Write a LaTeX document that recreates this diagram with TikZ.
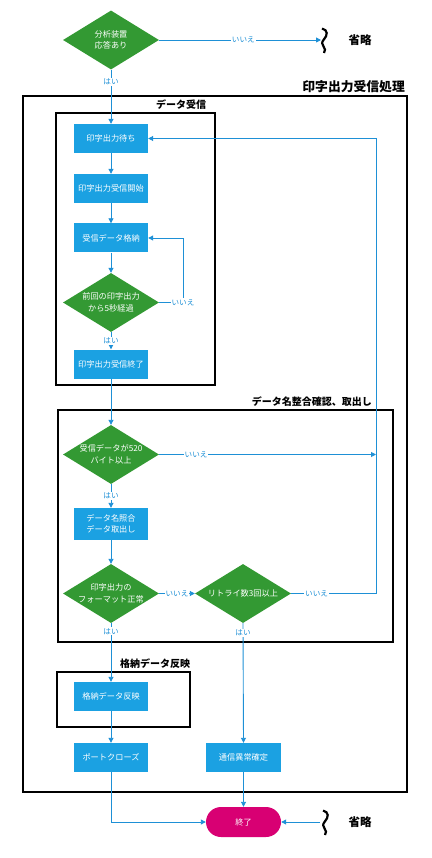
\documentclass[tikz,border=0pt]{standalone}
\usepackage{fontspec}
\setmainfont{Noto Sans CJK JP}
\usetikzlibrary{shapes.geometric,shapes.misc,arrows.meta}
\definecolor{grn}{RGB}{51,153,51}
\definecolor{bx}{RGB}{27,161,226}
\definecolor{ln}{RGB}{30,144,214}
\definecolor{mag}{RGB}{216,0,115}
\tikzset{
  dia/.style={diamond,fill=grn,inner sep=0pt,minimum width=96pt,minimum height=59pt},
  dtxt/.style={text=white,font=\fontsize{8.2}{11.5}\selectfont,align=center,inner sep=0pt},
  box/.style={rectangle,fill=bx,text=white,font=\fontsize{8.2}{11.5}\selectfont,align=center,minimum width=74pt,minimum height=29pt,inner sep=0pt},
  term/.style={rounded rectangle,fill=mag,text=white,font=\fontsize{8.2}{11}\selectfont,minimum width=75pt,minimum height=30pt,inner sep=0pt},
  arr/.style={draw=ln,line width=0.9pt,-{Triangle[length=5pt,width=5pt]}},
  lbl/.style={fill=white,text=ln,font=\fontsize{7.6}{8}\selectfont,inner sep=1pt},
  grp/.style={draw=black,line width=1.7pt},
  gtitle/.style={font=\fontsize{10}{11}\selectfont\bfseries,inner sep=0pt},
  skip/.style={draw=black,line width=2.2pt},
  skiptxt/.style={font=\fontsize{11.5}{13}\selectfont\bfseries,inner sep=0pt},
}
\begin{document}
\begin{tikzpicture}[x=1pt,y=-1pt]
\useasboundingbox (0,0) rectangle (431,858);
% group frames
\draw[grp] (23,96) rectangle (407,792);
\node[gtitle,font=\fontsize{12.8}{14}\selectfont\bfseries,anchor=east] (tmain) at (405,87) {印字出力受信処理};
\draw[grp] (56,113) rectangle (215,385);
\node[gtitle] (tg1) at (181,105) {データ受信};
\draw[grp] (58,410) rectangle (393,642);
\node[gtitle,anchor=east] (tg2) at (372,402) {データ名整合確認、取出し};
\draw[grp] (57,672) rectangle (190,727);
\node[gtitle] (tg3) at (155,664) {格納データ反映};
% nodes
\node[dia] (d1) at (111,40) {};
\node[dtxt] at (d1) {分析装置\\応答あり};
\node[box] (b1) at (111,138.5) {印字出力待ち};
\node[box] (b2) at (111,188.5) {印字出力受信開始};
\node[box] (b3) at (111,238) {受信データ格納};
\node[dia] (d2) at (111,302.5) {};
\node[dtxt] at (d2) {前回の印字出力\\から5秒経過};
\node[box] (b4) at (111,364) {印字出力受信終了};
\node[dia] (d3) at (111,454.5) {};
\node[dtxt] at (d3) {受信データが520\\バイト以上};
\node[box,minimum height=32pt] (b5) at (111,524) {データ名照合\\データ取出し};
\node[dia] (d4) at (111,593.5) {};
\node[dtxt] at (d4) {印字出力の\\フォーマット正常};
\node[dia] (d5) at (243,593.5) {};
\node[dtxt] at (d5) {リトライ数3回以上};
\node[box] (b6) at (111,696.5) {格納データ反映};
\node[box] (b7) at (111,757.5) {ポートクローズ};
\node[box,minimum width=75pt] (b8) at (243.5,757.5) {通信異常確定};
\node[term] (e) at (243.5,822) {終了};
% skip marks
\coordinate (s1) at (321,40);
\draw[skip] (322,28.5) .. controls (328,30) and (328,35) .. (323.5,40) .. controls (319,45) and (328,48) .. (324,53);
\node[skiptxt] (sk1) at (360,40) {省略};
\coordinate (s2) at (320,822);
\draw[skip] (323,810.5) .. controls (329,812) and (329,817) .. (324.5,822) .. controls (320,827) and (329,830) .. (325,835);
\node[skiptxt] (sk2) at (360,822) {省略};
\coordinate (rt) at (376,593.5);
\coordinate (lp) at (183,302.5);
% connectors
\draw[arr] (d1.east) -- node[lbl,pos=0.52] {いいえ} (s1);
\draw[arr] (d1.south) -- node[lbl,pos=0.22] {はい} (b1.north);
\draw[arr] (b1) -- (b2);
\draw[arr] (b2) -- (b3);
\draw[arr] (b3) -- (d2);
\draw[arr] (d2.east) -- (lp) |- (b3.east);
\node[lbl] at (lp) {いいえ};
\draw[arr] (d2.south) -- node[lbl,pos=0.5] {はい} (b4.north);
\draw[arr] (b4.south) -- (d3.north);
\draw[arr] (d3.east) -- node[lbl,pos=0.17] {いいえ} (376,454.5);
\draw[arr] (d3.south) -- node[lbl,pos=0.5] {はい} (b5.north);
\draw[arr] (b5) -- (d4);
\draw[arr] (d4.east) -- node[lbl,pos=0.5] {いいえ} (d5.west);
\draw[arr] (d5.east) -- node[lbl,pos=0.3] {いいえ} (rt) |- (b1.east);
\draw[arr] (d4.south) -- node[lbl,pos=0.14] {はい} (b6.north);
\draw[arr] (b6) -- (b7);
\draw[arr] (d5.south) -- node[lbl,pos=0.08] {はい} (b8.north);
\draw[arr] (b7.south) |- (e.west);
\draw[arr] (b8) -- (e);
\draw[arr] (s2) -- (e.east);
\end{tikzpicture}
\end{document}
